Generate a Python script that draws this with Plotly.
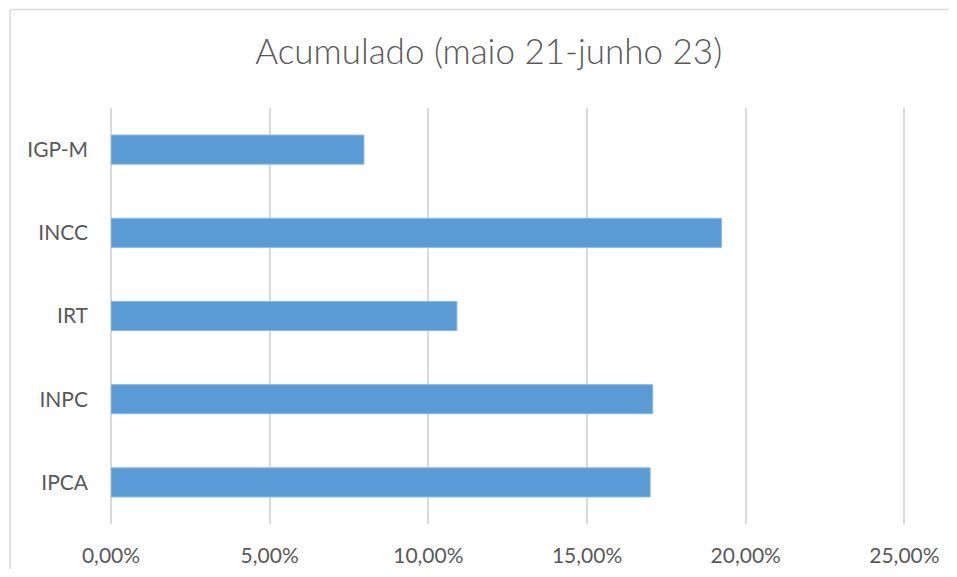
import plotly.graph_objects as go

categories = ["IPCA", "INPC", "IRT", "INCC", "IGP-M"]
values = [0.1699, 0.1707, 0.1090, 0.1924, 0.0797]
x_ticks = [0, 0.05, 0.10, 0.15, 0.20, 0.25]
title_text = "Acumulado (maio 21-junho 23)"

# page body has an 8px margin on every side; keep the figure inside the window
OFF = 8
W, H = 957 - 2 * OFF, 577 - 2 * OFF
ml, mt = 110.5 - OFF, 108 - OFF
mr = W - (906 - OFF)
mb = H - (523.8 - OFF)
pw, ph = W - ml - mr, H - mt - mb

bx0 = (9.5 - OFF - ml) / pw
bx1 = (W + 30 - ml) / pw
by1 = (H - mb - (9.5 - OFF)) / ph
by0 = (H - mb - (H + 30)) / ph
border = dict(color="#d9d9d9", width=1.5)

fig = go.Figure()
fig.add_trace(go.Bar(
    y=categories, x=values, orientation="h",
    marker=dict(color="#5b9bd5", line=dict(color="#8dbae6", width=1)),
    hoverinfo="skip",
))

fig.update_layout(
    width=W, height=H,
    margin=dict(l=ml, r=mr, t=mt, b=mb, pad=0, autoexpand=False),
    paper_bgcolor="white", plot_bgcolor="white",
    separators=",.",
    bargap=0.65,
    showlegend=False,
    title=dict(text=title_text, x=(488.5 - OFF - ml) / pw, xref="paper", xanchor="center",
               y=1 - (52 - OFF) / H, yref="container", yanchor="middle",
               font=dict(family="Lato", size=35, color="#595959", weight=300)),
    font=dict(family="Lato", color="#595959"),
    xaxis=dict(range=[0, 0.2505], tickvals=x_ticks, tickformat=".2%",
               showgrid=True, gridcolor="#d9d9d9", gridwidth=1.5,
               zeroline=True, zerolinecolor="#d9d9d9", zerolinewidth=1.5,
               showline=False, ticks="", ticklabelstandoff=17, automargin=False,
               tickfont=dict(family="Lato", size=21, color="#595959")),
    yaxis=dict(showgrid=False, zeroline=False, showline=False, ticks="",
               ticklabelstandoff=22, automargin=False,
               tickfont=dict(family="Lato", size=21, color="#595959")),
    shapes=[
        dict(type="line", xref="paper", yref="paper",
             x0=bx0, x1=bx1, y0=by1, y1=by1, line=border, layer="below"),
        dict(type="line", xref="paper", yref="paper",
             x0=bx0, x1=bx0, y0=by0, y1=by1, line=border, layer="below"),
    ],
)

fig.write_html("out.html")
